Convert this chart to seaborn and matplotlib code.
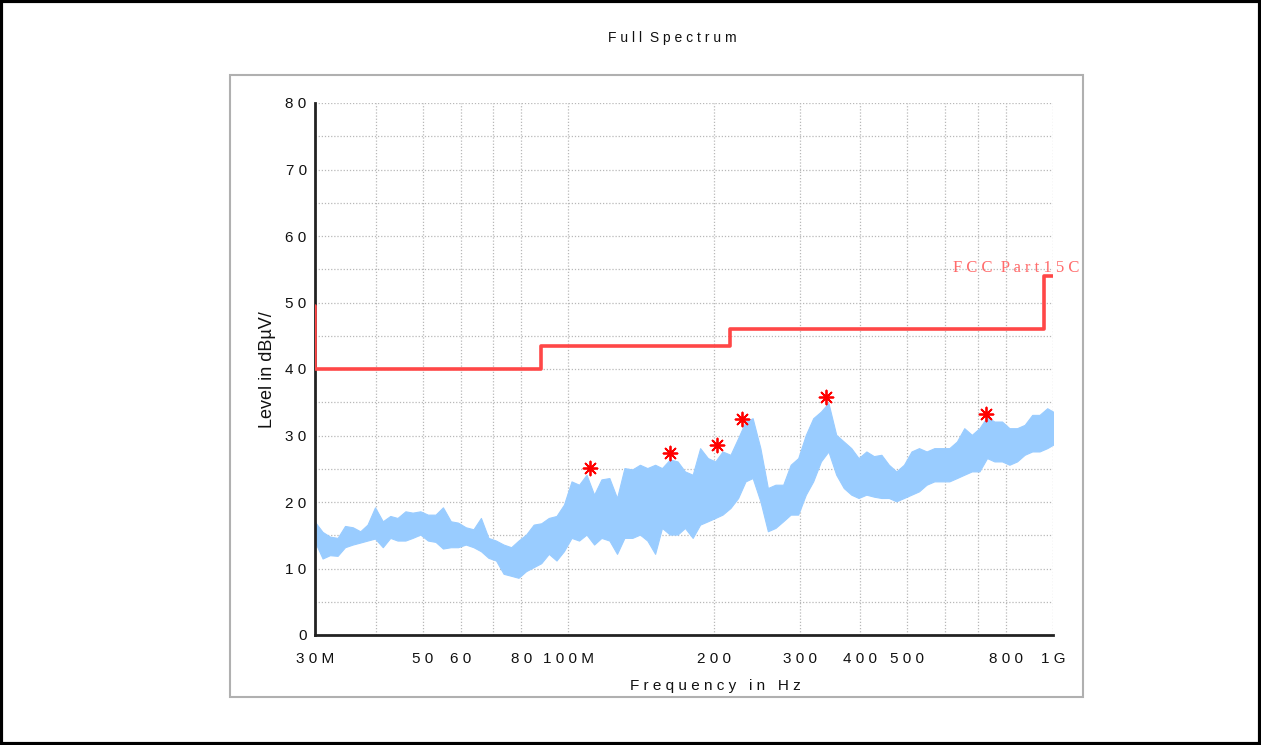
import matplotlib.pyplot as plt
import seaborn as sns
from matplotlib.patches import Rectangle
from matplotlib.ticker import FixedLocator, FixedFormatter, NullLocator

sns.set_theme(style="white")
plt.rcParams["font.family"] = ["Liberation Sans", "DejaVu Sans"]

# measured trace envelope (MHz, dBuV/m)
freq_mhz = [30.0, 31.1, 32.2, 33.4, 34.6, 35.9, 37.2, 38.5, 39.9, 41.4,
            42.9, 44.4, 46.1, 47.7, 49.5, 51.3, 53.2, 55.1, 57.2, 59.2,
            61.4, 63.7, 66.0, 68.4, 70.9, 73.5, 76.2, 78.9, 81.8, 84.8,
            87.9, 91.1, 94.5, 97.9, 101.5, 105.2, 109.0, 113.0, 117.0, 121.5,
            126.0, 130.5, 135.5, 140.5, 145.5, 151.0, 156.0, 162.0, 168.0, 174.0,
            180.5, 187.0, 194.0, 201.0, 208.0, 216.0, 224.0, 232.0, 240.0, 249.0,
            258.0, 267.5, 277.5, 287.5, 298.0, 309.0, 320.0, 332.0, 344.0, 357.0,
            370.0, 383.5, 397.0, 412.0, 427.0, 442.5, 458.5, 475.0, 492.5, 510.5,
            529.0, 548.5, 569.0, 589.5, 611.0, 633.5, 656.0, 680.0, 705.0, 731.0,
            757.0, 785.0, 813.0, 843.0, 874.0, 906.0, 938.0, 973.0, 1000.0]
level_hi = [17.0, 15.5, 14.8, 14.6, 16.4, 16.2, 15.6, 16.6, 19.2, 17.1,
            17.9, 17.6, 18.6, 18.4, 18.6, 18.1, 18.1, 19.2, 17.1, 16.9,
            16.2, 15.9, 17.6, 14.6, 14.2, 13.6, 13.2, 14.2, 15.1, 16.6,
            16.8, 17.6, 17.9, 19.6, 23.1, 22.6, 24.1, 21.1, 23.4, 23.6,
            20.6, 25.1, 24.9, 25.6, 25.1, 25.6, 25.1, 26.4, 26.1, 24.6,
            24.1, 28.1, 26.6, 26.1, 27.6, 27.1, 29.6, 32.1, 32.6, 28.1,
            22.1, 22.6, 22.6, 25.6, 26.6, 30.1, 32.6, 33.6, 34.9, 30.1,
            29.1, 28.1, 26.6, 27.6, 26.9, 27.1, 25.6, 24.6, 25.6, 27.6,
            28.1, 27.6, 28.1, 28.1, 28.1, 29.1, 31.1, 30.1, 31.1, 32.8,
            32.1, 32.1, 31.1, 31.1, 31.6, 33.1, 33.1, 34.1, 33.6]
level_lo = [14.0, 11.5, 12.0, 11.9, 13.2, 13.6, 13.9, 14.2, 14.5, 13.2,
            14.6, 14.2, 14.2, 14.6, 15.1, 14.2, 14.0, 13.0, 13.2, 13.2,
            13.6, 13.2, 12.6, 11.6, 11.2, 9.2, 8.9, 8.6, 9.6, 10.2,
            10.8, 12.2, 11.2, 12.6, 14.6, 14.2, 15.1, 13.6, 14.6, 14.2,
            12.2, 14.6, 14.6, 15.1, 14.2, 12.2, 16.1, 15.1, 15.1, 16.1,
            14.6, 16.6, 17.1, 17.6, 18.1, 19.1, 20.6, 23.1, 23.6, 20.1,
            15.6, 16.1, 17.1, 18.1, 18.1, 21.1, 23.1, 26.1, 27.6, 24.1,
            22.1, 21.1, 20.6, 21.1, 20.8, 20.6, 20.6, 20.1, 20.6, 21.1,
            21.6, 22.6, 23.1, 23.1, 23.1, 23.6, 24.1, 24.6, 24.6, 26.6,
            26.1, 26.1, 25.6, 26.1, 27.1, 27.6, 27.6, 28.1, 28.6]

# FCC Part 15 limit line
limit_mhz = [30, 30, 88, 88, 216, 216, 960, 960, 1000]
limit_db = [49.5, 40, 40, 43.5, 43.5, 46, 46, 54, 54]

# marked peaks
peak_mhz = [110.8, 162.0, 202.6, 228.0, 340.0, 728.0]
peak_db = [25.1, 27.3, 28.5, 32.5, 35.8, 33.2]

xtick_mhz = [30, 40, 50, 60, 70, 80, 100, 200, 300, 400, 500, 600, 700, 800, 1000]
xtick_labels = ["30M", "", "50", "60", "", "80", "100M", "200", "300", "400",
                "500", "", "", "800", "1G"]


def spaced(s):
    return " ".join(s)


fig = plt.figure(figsize=(12.61, 7.45), dpi=100)
ax = fig.add_axes([315 / 1261, 110 / 745, 738 / 1261, 532 / 745])

ax.fill_between(freq_mhz, level_lo, level_hi, color="#99ccff",
                edgecolor="#99ccff", linewidth=0.8, zorder=2)

sns.lineplot(x=limit_mhz, y=limit_db, sort=False, estimator=None,
             color="#ff4747", linewidth=2.6, ax=ax, zorder=3)
sns.scatterplot(x=peak_mhz, y=peak_db, marker=(8, 2, 0), s=100,
                color="red", edgecolor="red", linewidth=1.3, ax=ax, zorder=4)

ax.set_xscale("log")
ax.set_xlim(30, 1000)
ax.set_ylim(0, 80)

ax.xaxis.set_major_locator(FixedLocator(xtick_mhz))
ax.xaxis.set_major_formatter(FixedFormatter([spaced(t) for t in xtick_labels]))
ax.xaxis.set_minor_locator(NullLocator())
ax.yaxis.set_major_locator(FixedLocator(range(0, 81, 10)))
ax.yaxis.set_major_formatter(FixedFormatter([spaced(str(v)) for v in range(0, 81, 10)]))
ax.yaxis.set_minor_locator(FixedLocator(range(5, 80, 10)))

ax.grid(True, which="both", linestyle=(0, (1, 1.5)), color="#b8b8b8", linewidth=0.9)
ax.grid(False, axis="x", which="minor")
ax.set_axisbelow(True)

for side in ["top", "right"]:
    ax.spines[side].set_visible(False)
for side in ["left", "bottom"]:
    ax.spines[side].set_color("#222222")
    ax.spines[side].set_linewidth(2)

ax.tick_params(axis="both", which="both", direction="inout", length=10,
               width=1.5, color="#222222", labelsize=11, labelcolor="#111111")
ax.tick_params(axis="x", pad=7)
ax.tick_params(axis="y", pad=1)

ax.set_xlabel(spaced("Frequency") + "   " + spaced("in") + "   " + spaced("Hz"),
              fontsize=11, color="#111111")
ax.xaxis.set_label_coords(0.542, -0.083)
ax.set_ylabel("Level in dBµV/", fontsize=13, color="#111111")
ax.yaxis.set_label_coords(-0.053, 0.498)

ax.text(622, 54.6, "F C C  P a r t 1 5 C", color="#ff6b6b", fontsize=12,
        family=["Liberation Serif", "DejaVu Serif"], va="baseline", clip_on=False)

fig.text(672 / 1261, 1 - 38 / 745, spaced("Full") + "  " + spaced("Spectrum"),
         ha="center", va="center", fontsize=10, color="#111111")

fig.patches.append(Rectangle((230 / 1261, 1 - 697 / 745), 853 / 1261, 622 / 745,
                             transform=fig.transFigure, fill=False,
                             edgecolor="#b0b0b0", linewidth=1.5))
fig.patches.append(Rectangle((0.001, 0.001), 0.998, 0.998, transform=fig.transFigure,
                             fill=False, edgecolor="black", linewidth=3))

fig.savefig("out.png", dpi=100)
